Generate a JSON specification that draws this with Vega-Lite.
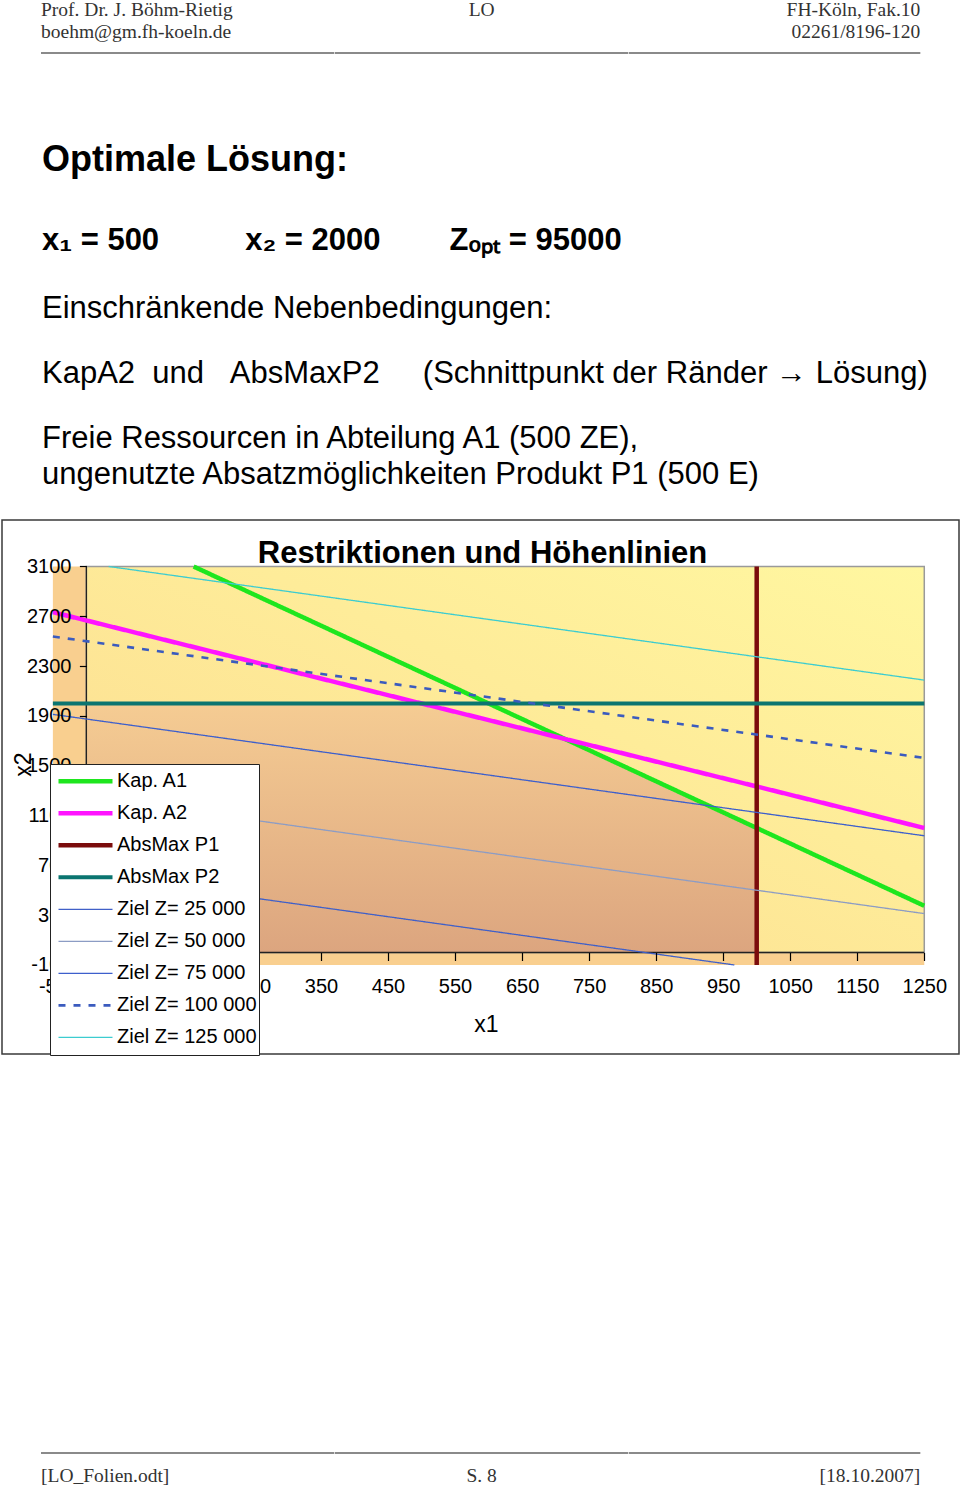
{
  "$schema": "https://vega.github.io/schema/vega-lite/v6.json",
  "padding": {"left": 1, "top": 0, "right": 0, "bottom": 0},
  "background": "white",
  "spacing": 0,
  "config": {"view": {"stroke": null}, "concat": {"spacing": 0}},
  "datasets": {
    "bg": [{"xa": -50, "xb": 1250, "ya": -100, "yb": 3100}],
    "quad": [{"xa": 0, "xb": 1250, "ya": 0, "yb": 3100}],
    "feasible": [
      {"x1": 0, "x2": 2000},
      {"x1": 500, "x2": 2000},
      {"x1": 714.3, "x2": 1714.3},
      {"x1": 1000, "x2": 1000}
    ],
    "axes": [
      {"xa": 0, "xb": 0, "ya": 0, "yb": 3100},
      {"xa": 0, "xb": 1250, "ya": 0, "yb": 0}
    ],
    "lines": [
      {"series": "Kap. A1", "x1": 160, "x2": 3100},
      {"series": "Kap. A1", "x1": 1250, "x2": 375},
      {"series": "Kap. A2", "x1": -50, "x2": 2733.3},
      {"series": "Kap. A2", "x1": 1250, "x2": 1000},
      {"series": "AbsMax P1", "x1": 1000, "x2": -100},
      {"series": "AbsMax P1", "x1": 1000, "x2": 3100},
      {"series": "AbsMax P2", "x1": -50, "x2": 2000},
      {"series": "AbsMax P2", "x1": 1250, "x2": 2000},
      {"series": "Ziel Z= 25 000", "x1": -50, "x2": 662.5},
      {"series": "Ziel Z= 25 000", "x1": 966.7, "x2": -100},
      {"series": "Ziel Z= 50 000", "x1": -50, "x2": 1287.5},
      {"series": "Ziel Z= 50 000", "x1": 1250, "x2": 312.5},
      {"series": "Ziel Z= 75 000", "x1": -50, "x2": 1912.5},
      {"series": "Ziel Z= 75 000", "x1": 1250, "x2": 937.5},
      {"series": "Ziel Z= 100 000", "x1": -50, "x2": 2537.5},
      {"series": "Ziel Z= 100 000", "x1": 1250, "x2": 1562.5},
      {"series": "Ziel Z= 125 000", "x1": 33.3, "x2": 3100},
      {"series": "Ziel Z= 125 000", "x1": 1250, "x2": 2187.5}
    ]
  },
  "vconcat": [
    {
      "spacing": 0,
      "hconcat": [
        {"width": 39, "height": 2, "data": {"values": []}, "mark": "point"},
        {"width": 293.333, "height": 2, "view": {"fill": "#8a8a8a", "stroke": null}, "data": {"values": []}, "mark": "point",
         "title": {"text": ["Prof. Dr. J. Böhm-Rietig", "boehm@gm.fh-koeln.de"], "anchor": "start", "frame": "group", "offset": 9.5, "font": "Liberation Serif", "fontSize": 19.5, "fontWeight": "normal", "color": "#333333", "lineHeight": 22}},
        {"width": 293.333, "height": 2, "view": {"fill": "#8a8a8a", "stroke": null}, "data": {"values": []}, "mark": "point",
         "title": {"text": ["LO", "\u00a0"], "anchor": "middle", "frame": "group", "offset": 9.5, "font": "Liberation Serif", "fontSize": 19.5, "fontWeight": "normal", "color": "#333333", "lineHeight": 22}},
        {"width": 291.334, "height": 2, "view": {"fill": "#8a8a8a", "stroke": null}, "data": {"values": []}, "mark": "point",
         "title": {"text": ["FH-Köln, Fak.10", "02261/8196-120"], "anchor": "end", "frame": "group", "offset": 9.5, "font": "Liberation Serif", "fontSize": 19.5, "fontWeight": "normal", "color": "#333333", "lineHeight": 22}}
      ]
    },
    {"width": 1, "height": 87.6, "data": {"values": []}, "mark": "point"},
    {
      "width": 1, "height": 1, "data": {"values": []}, "mark": "point",
      "title": {
        "text": "Optimale Lösung:",
        "subtitle": "x\u2081 = 500\u00a0\u00a0\u00a0\u00a0\u00a0\u00a0\u00a0\u00a0\u00a0\u00a0x\u2082 = 2000\u00a0\u00a0\u00a0\u00a0\u00a0\u00a0\u00a0\u00a0Z\u2092\u209a\u209c = 95000",
        "anchor": "start", "frame": "group", "dx": 40, "offset": 0,
        "font": "Liberation Sans", "fontSize": 36, "fontWeight": "bold", "color": "black",
        "subtitleFont": "Liberation Sans", "subtitleFontSize": 31, "subtitleFontWeight": "bold", "subtitleColor": "black",
        "subtitlePadding": 47
      }
    },
    {"width": 1, "height": 34, "data": {"values": []}, "mark": "point"},
    {
      "width": 1, "height": 1, "data": {"values": []}, "mark": "point",
      "title": {
        "text": ["Einschränkende Nebenbedingungen:", "KapA2\u00a0\u00a0und\u00a0\u00a0\u00a0AbsMaxP2\u00a0\u00a0\u00a0\u00a0\u00a0(Schnittpunkt der Ränder \u2192 Lösung)"],
        "subtitle": ["Freie Ressourcen in Abteilung A1 (500 ZE),", "ungenutzte Absatzmöglichkeiten Produkt P1 (500 E)"],
        "anchor": "start", "frame": "group", "dx": 40, "offset": 27.5,
        "font": "Liberation Sans", "fontSize": 31, "fontWeight": "normal", "color": "black", "lineHeight": 65,
        "subtitleFont": "Liberation Sans", "subtitleFontSize": 31, "subtitleFontWeight": "normal", "subtitleColor": "black", "subtitleLineHeight": 36,
        "subtitlePadding": 34
      }
    },
    {
      "width": 957, "height": 534,
      "view": {"stroke": "#3a3a3a", "strokeWidth": 1.5},
      "title": {"text": "Restriktionen und Höhenlinien", "anchor": "middle", "frame": "group", "offset": -49.5, "dx": 2, "font": "Liberation Sans", "fontSize": 31, "fontWeight": "bold", "color": "black"},
      "layer": [
        {
          "data": {"name": "bg"},
          "mark": {"type": "rect", "color": "#F9CF8F"},
          "encoding": {
            "x": {"field": "xa", "type": "quantitative",
                  "scale": {"domain": [-125.9, 1301.8], "nice": false, "zero": false},
                  "axis": {"title": "x1", "values": [-50, 50, 150, 250, 350, 450, 550, 650, 750, 850, 950, 1050, 1150, 1250], "format": "d",
                           "labelExpr": "replace(datum.label, '\u2212', '-')",
                           "offset": -101.5, "domain": false, "grid": false, "tickSize": 8, "tickColor": "black", "tickWidth": 1.2,
                           "labelPadding": 16, "labelFont": "Liberation Sans", "labelFontSize": 20, "labelColor": "black", "labelOverlap": false, "labelFlush": false,
                           "titleFont": "Liberation Sans", "titleFontSize": 23, "titleFontWeight": "normal", "titleColor": "black",
                           "titleX": 484, "titleY": 71.5, "titleBaseline": "middle", "titleAlign": "center", "zindex": 1}},
            "x2": {"field": "xb"},
            "y": {"field": "ya", "type": "quantitative",
                  "scale": {"domain": [-815.1, 3473.4], "nice": false, "zero": false},
                  "axis": {"title": "x2", "values": [-100, 300, 700, 1100, 1500, 1900, 2300, 2700, 3100], "format": "d",
                           "labelExpr": "replace(datum.label, '\u2212', '-')",
                           "offset": -84.4, "domain": false, "grid": false, "tickSize": 7, "tickColor": "black", "tickWidth": 1.2,
                           "labelPadding": 8.5, "labelFont": "Liberation Sans", "labelFontSize": 20, "labelColor": "black", "labelOverlap": false, "labelFlush": false,
                           "titleFont": "Liberation Sans", "titleFontSize": 23, "titleFontWeight": "normal", "titleColor": "black",
                           "titleX": -63, "titleY": 244, "titleAngle": -90, "titleBaseline": "middle", "titleAlign": "center", "zindex": 1}},
            "y2": {"field": "yb"}
          }
        },
        {
          "data": {"name": "quad"},
          "mark": {"type": "rect", "stroke": "#9a9a9a", "strokeWidth": 1.5,
                   "fill": {"gradient": "linear", "x1": 0, "y1": 1, "x2": 1, "y2": 0,
                            "stops": [{"offset": 0, "color": "#FCDB90"}, {"offset": 0.6, "color": "#FEEC99"}, {"offset": 1, "color": "#FFF7A0"}]}},
          "encoding": {
            "x": {"field": "xa", "type": "quantitative"},
            "x2": {"field": "xb"},
            "y": {"field": "ya", "type": "quantitative"},
            "y2": {"field": "yb"}
          }
        },
        {
          "data": {"name": "feasible"},
          "mark": {"type": "area", "stroke": "#3a2a1a", "strokeWidth": 1,
                   "fill": {"gradient": "linear", "x1": 0, "y1": 0, "x2": 0, "y2": 1,
                            "stops": [{"offset": 0, "color": "#F5CC93"}, {"offset": 1, "color": "#DCA57F"}]}},
          "encoding": {
            "x": {"field": "x1", "type": "quantitative"},
            "y": {"field": "x2", "type": "quantitative"},
            "y2": {"datum": 0}
          }
        },
        {
          "data": {"name": "axes"},
          "mark": {"type": "rule", "color": "#222222", "strokeWidth": 1.3},
          "encoding": {
            "x": {"field": "xa", "type": "quantitative"},
            "x2": {"field": "xb"},
            "y": {"field": "ya", "type": "quantitative"},
            "y2": {"field": "yb"}
          }
        },
        {
          "data": {"name": "lines"},
          "mark": {"type": "line"},
          "encoding": {
            "x": {"field": "x1", "type": "quantitative"},
            "y": {"field": "x2", "type": "quantitative"},
            "color": {"field": "series", "type": "nominal",
                      "scale": {"domain": ["Kap. A1", "Kap. A2", "AbsMax P1", "AbsMax P2", "Ziel Z= 25 000", "Ziel Z= 50 000", "Ziel Z= 75 000", "Ziel Z= 100 000", "Ziel Z= 125 000"],
                                "range": ["#1EE61E", "#FF14FF", "#7B0C0C", "#0B7570", "#4060C8", "#8C9CC4", "#3D5FCC", "#3B5BBE", "#3CCCD0"]},
                      "legend": {"orient": "none", "legendX": 48, "legendY": 712, "direction": "vertical", "title": null,
                                 "fillColor": "white", "strokeColor": "#222222", "padding": 1.5,
                                 "symbolType": "M-1.8,0L1.8,0", "symbolSize": 900, "symbolOffset": 16.5,
                                 "labelOffset": 14, "labelFont": "Liberation Sans", "labelFontSize": 20, "labelColor": "black", "labelLimit": 300,
                                 "clipHeight": 31.7, "rowPadding": 0, "zindex": 2}},
            "strokeDash": {"field": "series", "type": "nominal",
                           "scale": {"domain": ["Kap. A1", "Kap. A2", "AbsMax P1", "AbsMax P2", "Ziel Z= 25 000", "Ziel Z= 50 000", "Ziel Z= 75 000", "Ziel Z= 100 000", "Ziel Z= 125 000"],
                                     "range": [[1, 0], [1, 0], [1, 0], [1, 0], [1, 0], [1, 0], [1, 0], [7, 8], [1, 0]]}},
            "strokeWidth": {"field": "series", "type": "nominal",
                            "scale": {"type": "ordinal", "domain": ["Kap. A1", "Kap. A2", "AbsMax P1", "AbsMax P2", "Ziel Z= 25 000", "Ziel Z= 50 000", "Ziel Z= 75 000", "Ziel Z= 100 000", "Ziel Z= 125 000"],
                                      "range": [4.5, 4.5, 4.5, 4, 1.3, 1.3, 1.3, 2.6, 1.3]}}
          }
        }
      ]
    },
    {"width": 1, "height": 397, "data": {"values": []}, "mark": "point"},
    {
      "spacing": 0,
      "hconcat": [
        {"width": 39, "height": 2, "data": {"values": []}, "mark": "point"},
        {"width": 293.333, "height": 2, "view": {"fill": "#8a8a8a", "stroke": null}, "data": {"values": []}, "mark": "point",
         "title": {"text": "[LO_Folien.odt]", "orient": "bottom", "anchor": "start", "frame": "group", "offset": 13, "font": "Liberation Serif", "fontSize": 19.5, "fontWeight": "normal", "color": "#333333"}},
        {"width": 293.333, "height": 2, "view": {"fill": "#8a8a8a", "stroke": null}, "data": {"values": []}, "mark": "point",
         "title": {"text": "S. 8", "orient": "bottom", "anchor": "middle", "frame": "group", "offset": 13, "font": "Liberation Serif", "fontSize": 19.5, "fontWeight": "normal", "color": "#333333"}},
        {"width": 291.334, "height": 2, "view": {"fill": "#8a8a8a", "stroke": null}, "data": {"values": []}, "mark": "point",
         "title": {"text": "[18.10.2007]", "orient": "bottom", "anchor": "end", "frame": "group", "offset": 13, "font": "Liberation Serif", "fontSize": 19.5, "fontWeight": "normal", "color": "#333333"}}
      ]
    }
  ]
}
